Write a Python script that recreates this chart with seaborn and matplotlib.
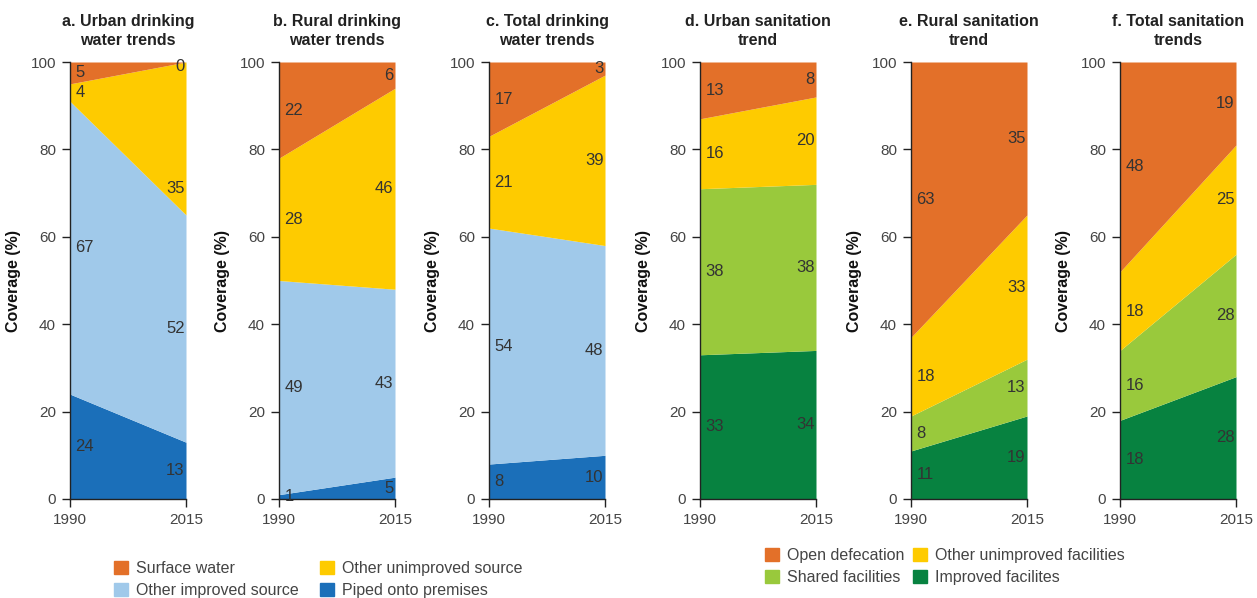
import numpy as np
import seaborn as sns
import matplotlib.pyplot as plt
from matplotlib.patches import Patch

years = [1990, 2015]

titles = ['a. Urban drinking\nwater trends', 'b. Rural drinking\nwater trends',
          'c. Total drinking\nwater trends', 'd. Urban sanitation\ntrend',
          'e. Rural sanitation\ntrend', 'f. Total sanitation\ntrends']

# water categories, bottom to top
water_cats = ['Piped onto premises', 'Other improved source',
              'Other unimproved source', 'Surface water']
urban_water = [[24, 13], [67, 52], [4, 35], [5, 0]]
rural_water = [[1, 5], [49, 43], [28, 46], [22, 6]]
total_water = [[8, 10], [54, 48], [21, 39], [17, 3]]

# sanitation categories, bottom to top
san_cats = ['Improved facilites', 'Shared facilities',
            'Other unimproved facilities', 'Open defecation']
urban_san = [[33, 34], [38, 38], [16, 20], [13, 8]]
rural_san = [[11, 19], [8, 13], [18, 33], [63, 35]]
total_san = [[18, 28], [16, 28], [18, 25], [48, 19]]

water_cols = ['#1B6FB9', '#A0C9EA', '#FECB00', '#E37029']
san_cols = ['#078240', '#99C93C', '#FECB00', '#E37029']

sns.set_style('ticks')
plt.rcParams['font.family'] = ['Liberation Sans', 'DejaVu Sans']

fig = plt.figure(figsize=(12.57, 5.98), dpi=100)

lefts = [70, 279, 489, 700, 911, 1120]
panels = [urban_water, rural_water, total_water, urban_san, rural_san, total_san]
cols = [water_cols]*3 + [san_cols]*3
txt = '#333333'

for i in range(6):
    ax = fig.add_axes([lefts[i]/1257, 99/598, 116/1257, 437/598])
    data = np.array(panels[i], dtype=float)
    ax.stackplot(years, data, colors=cols[i], linewidth=0)
    cum = np.cumsum(data, axis=0)
    for k in range(data.shape[0]):
        for j, yr in enumerate(years):
            mid = cum[k, j] - data[k, j]/2
            if i == 0 and k == 2 and j == 1:
                mid = 71   # moved down in the original to make room for "0"
            if i == 0 and k == 3 and j == 1:
                mid = 99
            off = 4 if j == 0 else -1
            ha = 'left' if j == 0 else 'right'
            ax.annotate(str(int(data[k, j])), (yr, mid), xytext=(off, 0),
                        textcoords='offset points', ha=ha, va='center',
                        fontsize=12, color=txt)
    ax.set_xlim(1990, 2015)
    ax.set_ylim(0, 100)
    ax.set_xticks(years)
    ax.set_yticks(range(0, 101, 20))
    ax.tick_params(length=6, width=1, colors='#222222', labelsize=11,
                   labelcolor='#444444', pad=4)
    sns.despine(ax=ax)
    for s in ['left', 'bottom']:
        ax.spines[s].set_color('#222222')
        ax.spines[s].set_linewidth(1)
    ax.set_ylabel('Coverage (%)', fontsize=11.5, fontweight='bold', color='#111111', labelpad=7)
    ax.set_title(titles[i], fontsize=11.5, fontweight='bold', color='#222222', pad=12,
                 linespacing=1.4)

wh = [Patch(color=c, label=l) for c, l in zip(water_cols, water_cats)]
order = [3, 1, 2, 0]
fig.legend([wh[o] for o in order], [water_cats[o] for o in order], ncol=2,
           loc='upper left', bbox_to_anchor=(106/1257, 1-553/598), frameon=False,
           fontsize=11.5, handlelength=0.9, handleheight=0.9, handletextpad=0.5,
           columnspacing=1.3, labelspacing=0.4, labelcolor='#444444', borderpad=0)
sh = [Patch(color=c, label=l) for c, l in zip(san_cols, san_cats)]
fig.legend([sh[o] for o in order], [san_cats[o] for o in order], ncol=2,
           loc='upper left', bbox_to_anchor=(757/1257, 1-540/598), frameon=False,
           fontsize=11.5, handlelength=0.9, handleheight=0.9, handletextpad=0.5,
           columnspacing=0.5, labelspacing=0.4, labelcolor='#444444', borderpad=0)

plt.savefig('out.png', dpi=100)
